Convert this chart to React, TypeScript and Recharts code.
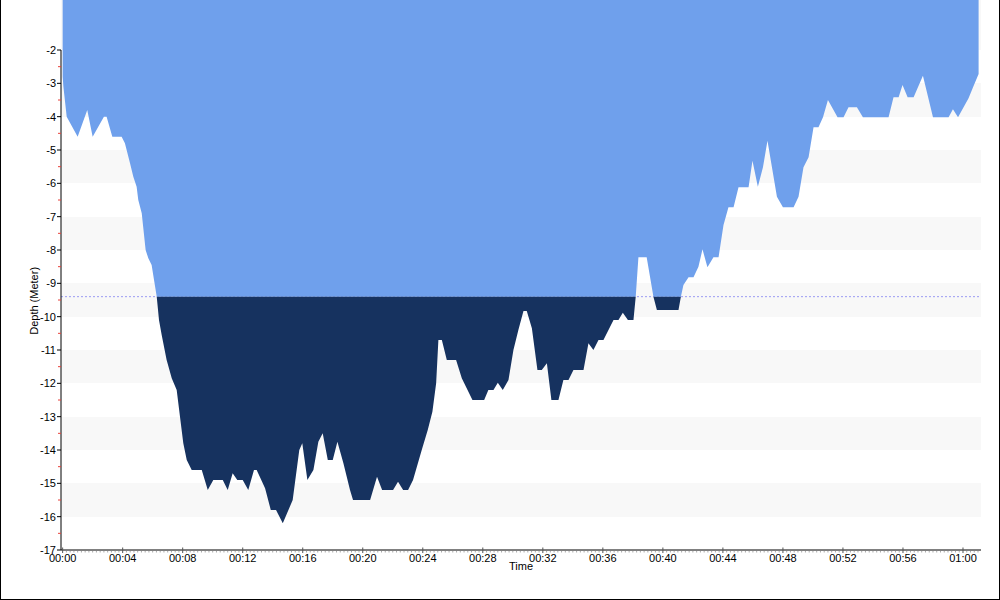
import { ComposedChart, Area, XAxis, YAxis, CartesianGrid, ReferenceLine } from 'recharts';

// dive profile: minutes since start / depth in metres
const TIMES = [
  0, 0.05, 0.27, 1.0, 1.64, 2.0, 2.75, 2.93, 3.31, 3.93, 4.15, 4.49, 4.71, 4.93, 5.04, 5.27,
  5.53, 5.71, 5.93, 6.09, 6.27, 6.42, 6.6, 6.93, 7.27, 7.6, 7.82, 8.04, 8.27, 8.6, 9.27, 9.67,
  10.04, 10.67, 11.0, 11.33, 11.64, 12.0, 12.37, 12.75, 12.93, 13.49, 13.87, 14.22, 14.67, 15.33,
  15.77, 15.97, 16.31, 16.71, 17.04, 17.33, 17.67, 18.0, 18.31, 18.71, 19.15, 19.35, 20.49, 20.95,
  21.29, 22.02, 22.35, 22.69, 23.02, 23.35, 23.93, 24.33, 24.64, 24.89, 25.04, 25.27, 25.6, 26.22,
  26.6, 27.31, 28.09, 28.37, 28.71, 29.0, 29.33, 29.71, 30.04, 30.37, 30.71, 30.93, 31.27, 31.64,
  31.93, 32.27, 32.57, 33.04, 33.37, 33.71, 34.04, 34.71, 35.04, 35.37, 35.71, 36.04, 36.71, 37.04,
  37.33, 37.67, 38.04, 38.19, 38.37, 38.92, 39.37, 39.6, 41.04, 41.2, 41.37, 41.71, 42.04, 42.37,
  42.64, 42.97, 43.37, 43.71, 44.04, 44.37, 44.71, 45.04, 45.71, 45.97, 46.33, 46.67, 46.97, 47.6,
  48.0, 48.71, 49.04, 49.37, 49.71, 50.04, 50.37, 50.67, 51.0, 51.64, 52.04, 52.37, 52.93, 53.33,
  55.04, 55.37, 55.71, 55.97, 56.31, 56.71, 57.33, 58.0, 59.04, 59.33, 59.67, 60.37, 60.67, 61.04,
];
const DEPTHS = [
  -2.8, -3.1, -4.0, -4.6, -3.8, -4.6, -4.0, -4.0, -4.6, -4.6, -4.8, -5.4, -5.8, -6.1, -6.5, -6.9,
  -8.0, -8.25, -8.45, -8.9, -9.4, -10.1, -10.55, -11.3, -11.85, -12.2, -13.0, -13.8, -14.3, -14.6, -14.6, -15.2,
  -14.9, -14.9, -15.2, -14.7, -14.9, -14.9, -15.2, -14.6, -14.6, -15.15, -15.8, -15.8, -16.2, -15.5,
  -14.0, -13.8, -14.9, -14.6, -13.75, -13.5, -14.3, -14.3, -13.75, -14.4, -15.2, -15.5, -15.5, -14.8,
  -15.2, -15.2, -14.95, -15.2, -15.2, -14.9, -14.0, -13.4, -12.85, -12.0, -10.7, -10.7, -11.3, -11.3,
  -11.85, -12.5, -12.5, -12.2, -12.2, -11.98, -12.2, -11.9, -11.0, -10.4, -9.83, -9.83, -10.35, -11.6,
  -11.6, -11.4, -12.5, -12.5, -11.9, -11.9, -11.6, -11.6, -10.8, -11.0, -10.7, -10.7, -10.1, -10.1,
  -9.88, -10.1, -10.1, -9.4, -8.22, -8.22, -9.4, -9.8, -9.8, -9.4, -9.05, -8.82, -8.82, -8.5,
  -7.98, -8.52, -8.22, -8.22, -7.25, -6.72, -6.72, -6.12, -6.12, -5.32, -6.1, -5.52, -4.72, -6.4,
  -6.72, -6.72, -6.4, -5.52, -5.22, -4.32, -4.32, -4.02, -3.5, -4.02, -4.02, -3.72, -3.72, -4.02,
  -4.02, -3.42, -3.42, -3.05, -3.42, -3.42, -2.77, -4.02, -4.02, -3.78, -4.02, -3.45, -3.12, -2.72,
];

const LIMIT_DEPTH = -9.4;
const Y_TOP = -0.5;
const Y_BOTTOM = -17;
const X_MIN = -0.11;
const X_MAX = 61.2;

// -17 .. -2 every half metre (integers labelled, halves are the red minor ticks)
const DEPTH_TICKS = Array.from({ length: 31 }, (_, i) => Y_BOTTOM + i * 0.5);
// every 15 s, labelled every 4 min
const TIME_TICKS = Array.from({ length: 245 }, (_, i) => i * 0.25);

const FONT = '"Liberation Sans", Arial, sans-serif';

const data = TIMES.map((t, i) => ({
  t,
  shallow: [Y_TOP, Math.max(DEPTHS[i], LIMIT_DEPTH)],
  deep: [LIMIT_DEPTH, Math.min(DEPTHS[i], LIMIT_DEPTH)],
}));

const pad = (n: number) => String(n).padStart(2, '0');
const fmtTime = (m: number) => `${pad(Math.floor(m / 60))}:${pad(Math.round(m % 60))}`;

function DepthTick({ x, y, payload }: { x?: number; y?: number; payload?: { value: number } }) {
  const v = payload?.value ?? 0;
  if (x == null || y == null) return null;
  if (!Number.isInteger(v)) {
    return <line x1={x - 3} x2={x} y1={y} y2={y} stroke="#e8413a" />;
  }
  return (
    <g>
      <line x1={x - 4} x2={x} y1={y} y2={y} stroke="#000" />
      <text x={x - 5} y={y} dy="0.36em" textAnchor="end" fontSize={11} fontFamily={FONT} fill="#000">
        {v}
      </text>
    </g>
  );
}

function TimeTick({ x, y, payload }: { x?: number; y?: number; payload?: { value: number } }) {
  const v = payload?.value ?? 0;
  if (x == null || y == null) return null;
  if (v % 4 !== 0) {
    return <line x1={x} x2={x} y1={y + 1} y2={y + 2.5} stroke="#aaa" />;
  }
  return (
    <g>
      <line x1={x} x2={x} y1={y - 2.5} y2={y + 3} stroke="#555" />
      <text x={x} y={y + 12} textAnchor="middle" fontSize={11} fontFamily={FONT} fill="#000">
        {fmtTime(v)}
      </text>
    </g>
  );
}

export default function App() {
  return (
    <div style={{ position: 'absolute', left: 0, top: 0, width: 1000, height: 600, background: '#fff', fontFamily: FONT }}>
      <ComposedChart width={1000} height={600} data={data} margin={{ top: 0, right: 19, bottom: 0, left: 0 }}>
        <CartesianGrid
          vertical={false}
          stroke="none"
          horizontalFill={['#f8f8f8', '#ffffff', '#ffffff', '#f8f8f8']}
        />
        <XAxis
          dataKey="t"
          type="number"
          domain={[X_MIN, X_MAX]}
          allowDataOverflow
          ticks={TIME_TICKS}
          interval={0}
          height={50}
          tickSize={0}
          tickMargin={0}
          tickLine={false}
          axisLine={{ stroke: '#000' }}
          tick={(p: any) => <TimeTick {...p} />}
          label={{ value: 'Time', position: 'insideTop', offset: 12, fontSize: 11, fontFamily: FONT, fill: '#000' }}
        />
        <YAxis
          type="number"
          domain={[Y_BOTTOM, Y_TOP]}
          allowDataOverflow
          ticks={DEPTH_TICKS}
          interval={0}
          width={61}
          tickSize={0}
          tickMargin={0}
          tickLine={false}
          axisLine={false}
          tick={(p: any) => <DepthTick {...p} />}
          label={{
            content: (props: any) => {
              const vb = props.viewBox || { x: 0, y: 0, width: 61, height: 550 };
              const cx = vb.x + 34;
              const cy = vb.y + vb.height * 0.547;
              return (
                <text x={cx} y={cy} transform={`rotate(-90 ${cx} ${cy})`} textAnchor="middle" dy="0.35em"
                  fontSize={11} fontFamily={FONT} fill="#000">
                  Depth (Meter)
                </text>
              );
            },
          }}
        />
        <ReferenceLine y={LIMIT_DEPTH} stroke="#9c9cf2" strokeDasharray="2 2" zIndex={50} />
        <Area
          type="linear"
          dataKey="shallow"
          stroke="none"
          fill="#6fa0ec"
          fillOpacity={1}
          dot={false}
          activeDot={false}
          isAnimationActive={false}
        />
        <Area
          type="linear"
          dataKey="deep"
          stroke="none"
          fill="#16325f"
          fillOpacity={1}
          dot={false}
          activeDot={false}
          isAnimationActive={false}
        />
        <ReferenceLine
          segment={[{ x: X_MIN, y: -2 }, { x: X_MIN, y: Y_BOTTOM }]}
          stroke="#000"
          ifOverflow="visible"
        />
      </ComposedChart>
      <div
        style={{
          position: 'absolute', left: 0, top: 0, width: 1000, height: 600, boxSizing: 'border-box',
          borderLeft: '1px solid #000', borderRight: '1px solid #000', borderBottom: '1px solid #000',
          pointerEvents: 'none',
        }}
      />
    </div>
  );
}
